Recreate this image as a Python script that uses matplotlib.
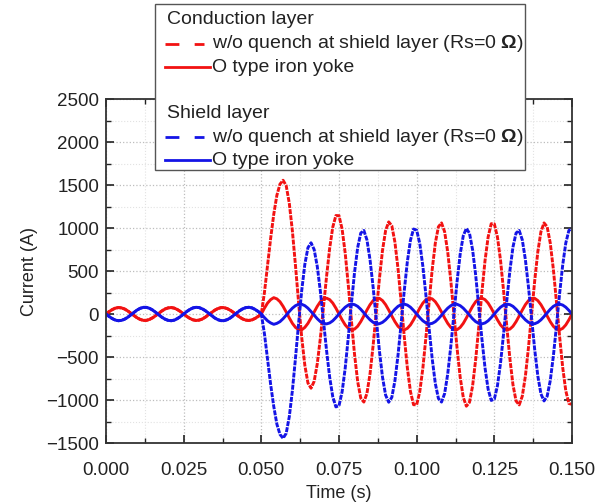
import numpy as np
import matplotlib
matplotlib.use('Agg')
from matplotlib import pyplot as plt
from matplotlib.lines import Line2D
from matplotlib.patches import Rectangle
from matplotlib.ticker import MultipleLocator

plt.rcParams['font.family'] = ['Liberation Sans', 'DejaVu Sans']
plt.rcParams['mathtext.fontset'] = 'custom'
plt.rcParams['mathtext.rm'] = 'Liberation Sans'
plt.rcParams['mathtext.bf'] = 'Liberation Sans:bold'

# sample times, 1 ms step, 0 .. 0.150 s
time = np.arange(151) / 1000.0

# 0 .. 0.050 s (both cases identical before the fault)
pre_cond = [0, 28, 51, 68, 75, 71, 58, 36, 9, -19, -44, -63, -74, -74, -63, -44, -19, 9, 36, 58,
            71, 75, 68, 51, 28, 0, -28, -51, -68, -75, -71, -58, -36, -9, 19, 44, 63, 74, 74, 63,
            44, 19, -9, -36, -58, -71, -75, -68, -51, -28, 0]
pre_shield = [0, -29, -53, -71, -78, -74, -60, -38, -10, 19, 46, 66, 77, 77, 66, 46, 19, -10, -38, -60,
              -74, -78, -71, -53, -29, 0, 29, 53, 71, 78, 74, 60, 38, 10, -19, -46, -66, -77, -77, -66,
              -46, -19, 10, 38, 60, 74, 78, 71, 53, 29, 0]

# 0.051 .. 0.150 s
cond_yoke = [68, 127, 167, 190, 176, 143, 89, 23, -46, -109, -156, -182, -184, -156, -109, -46, 23, 89, 143, 176,
             184, 167, 127, 68, 0, -68, -127, -167, -185, -176, -143, -89, -23, 46, 109, 156, 182, 182, 156, 109,
             46, -23, -89, -143, -176, -185, -167, -127, -68, 0, 68, 127, 167, 185, 176, 143, 89, 23, -46, -109,
             -156, -182, -182, -156, -109, -46, 23, 89, 143, 176, 185, 167, 127, 68, 0, -68, -127, -167, -185, -176,
             -143, -89, -23, 46, 109, 156, 182, 182, 156, 109, 46, -23, -89, -143, -176, -185, -167, -127, -68, 0]
cond_noquench = [250, 560, 880, 1160, 1380, 1510, 1555, 1493, 1287, 964, 560, 131, -273, -596, -802, -863, -783, -580, -281, 74,
                 438, 766, 1011, 1145, 1143, 988, 706, 333, -78, -469, -783, -978, -1024, -923, -692, -360, 24, 407, 739, 970,
                 1071, 1026, 835, 526, 144, -260, -625, -902, -1055, -1055, -903, -628, -264, 137, 517, 824, 1014, 1059, 956, 721,
                 383, -7, -397, -734, -969, -1072, -1027, -837, -529, -148, 254, 619, 894, 1050, 1048, 895, 622, 260, -139, -518,
                 -823, -1012, -1057, -955, -722, -386, 1, 388, 724, 957, 1059, 1014, 825, 520, 141, -258, -620, -893, -1041, -1050]
shield_yoke = [-42, -79, -104, -120, -109, -89, -55, -14, 29, 68, 97, 113, 113, 97, 68, 29, -14, -55, -89, -109,
               -115, -104, -79, -42, 0, 42, 79, 104, 115, 109, 89, 55, 14, -29, -68, -97, -113, -113, -97, -68,
               -29, 14, 55, 89, 109, 115, 104, 79, 42, 0, -42, -79, -104, -115, -109, -89, -55, -14, 29, 68,
               97, 113, 113, 97, 68, 29, -14, -55, -89, -109, -115, -104, -79, -42, 0, 42, 79, 104, 115, 109,
               89, 55, 14, -29, -68, -97, -113, -113, -97, -68, -29, 14, 55, 89, 109, 115, 104, 79, 42, 0]
shield_noquench = [-230, -520, -820, -1075, -1280, -1400, -1445, -1388, -1194, -890, -510, -107, 273, 577, 771, 828, 750, 554, 265, -76,
                   -426, -736, -964, -1080, -1066, -905, -628, -269, 120, 483, 771, 941, 971, 861, 628, 306, -62, -426, -733, -943,
                   -1026, -969, -776, -477, -111, 269, 608, 858, 988, 975, 820, 554, 210, -167, -521, -807, -982, -1024, -925, -696,
                   -372, 4, 376, 694, 910, 995, 939, 747, 450, 86, -290, -626, -874, -1005, -990, -835, -569, -222, 152, 502,
                   779, 942, 971, 862, 631, 311, -54, -415, -721, -929, -1011, -957, -775, -489, -138, 232, 568, 825, 972, 994]

xticks = [0.000, 0.025, 0.050, 0.075, 0.100, 0.125, 0.150]
xticklabels = ['0.000', '0.025', '0.050', '0.075', '0.100', '0.125', '0.150']
yticks = [-1500, -1000, -500, 0, 500, 1000, 1500, 2000, 2500]

RED = '#f21212'
BLUE = '#1414e6'
TXT = '#222222'
W, H = 597, 503

cond_noq = np.array(pre_cond + cond_noquench)
cond_oy = np.array(pre_cond + cond_yoke)
sh_noq = np.array(pre_shield + shield_noquench)
sh_oy = np.array(pre_shield + shield_yoke)

fig = plt.figure(figsize=(W / 100, H / 100), dpi=100)
ax = fig.add_axes([106 / W, 1 - 443 / H, 466 / W, 344 / H])

dash = (0, (1.7, 0.4))
ax.plot(time, cond_noq, color=RED, lw=2.1, ls=dash)
ax.plot(time, cond_oy, color=RED, lw=2.1)
ax.plot(time, sh_noq, color=BLUE, lw=2.1, ls=dash)
ax.plot(time, sh_oy, color=BLUE, lw=2.1)

ax.set_xlim(0, 0.15)
ax.set_ylim(-1500, 2500)
ax.set_xticks(xticks)
ax.set_xticklabels(xticklabels)
ax.set_yticks(yticks)
ax.xaxis.set_minor_locator(MultipleLocator(0.0125))
ax.yaxis.set_minor_locator(MultipleLocator(250))
ax.tick_params(which='both', direction='in', top=True, right=True, colors=TXT, labelsize=13.5)
ax.tick_params(which='major', length=6, width=1.2)
ax.tick_params(which='minor', length=3.5, width=1.0)
ax.tick_params(axis='x', pad=14)
ax.tick_params(axis='y', pad=5)
ax.grid(which='major', ls=':', color='#bdbdbd', lw=0.9)
ax.grid(which='minor', ls=':', color='#e2e2e2', lw=0.8)
ax.set_axisbelow(True)
for s in ax.spines.values():
    s.set_color('#333333')
    s.set_linewidth(1.3)

ax.set_xlabel('Time (s)', fontsize=13, color=TXT, labelpad=4)
ax.set_ylabel('Current (A)', fontsize=13, color=TXT, labelpad=6)

# legend box drawn by hand (section headers sit flush left)
def fx(x):
    return x / W

def fy(y):
    return 1 - y / H

fig.add_artist(Rectangle((fx(155), fy(170)), fx(525) - fx(155), fy(4) - fy(170),
                         transform=fig.transFigure, facecolor='white', edgecolor='#555555', lw=1.0, zorder=5))
lfs = 14
label = 'w/o quench at shield layer (Rs=0 $\\mathbf{\\Omega}$)'
rows = [('Conduction layer', None, None, 20),
        (label, RED, 'dash', 44),
        ('O type iron yoke', RED, 'solid', 67),
        ('Shield layer', None, None, 113),
        (label, BLUE, 'dash', 137),
        ('O type iron yoke', BLUE, 'solid', 160)]
for txt, col, kind, y in rows:
    if col is None:
        fig.text(fx(167), fy(y), txt, fontsize=lfs, color=TXT, va='center', ha='left', zorder=6)
        continue
    if kind == 'dash':
        ln = Line2D([fx(165), fx(204)], [fy(y), fy(y)], color=col, lw=2.0, dashes=(5, 5.5),
                    transform=fig.transFigure, zorder=6)
    else:
        ln = Line2D([fx(165), fx(210)], [fy(y), fy(y)], color=col, lw=2.0,
                    transform=fig.transFigure, zorder=6)
    fig.add_artist(ln)
    fig.text(fx(212), fy(y), txt, fontsize=lfs, color=TXT, va='center', ha='left', zorder=6)

fig.savefig('out.png', dpi=100)
